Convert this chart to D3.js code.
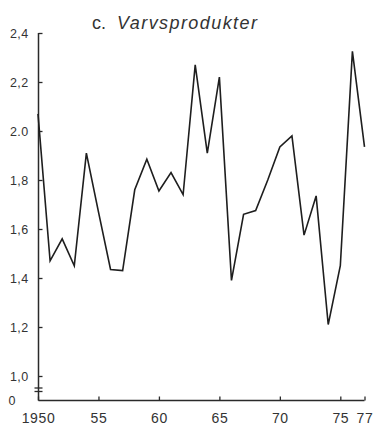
<!DOCTYPE html>
<html>
<head>
<meta charset="utf-8">
<script src="https://cdn.jsdelivr.net/npm/d3@7"></script>
<style>
  html, body { margin: 0; padding: 0; background: #fff; }
  svg { display: block; }
  text { font-family: "Liberation Sans", Arial, Helvetica, sans-serif; fill: #333; }
</style>
</head>
<body>
<div id="chart"></div>
<script>
// ---- Data ----
const years = [1950,1951,1952,1953,1954,1955,1956,1957,1958,1959,1960,1961,1962,1963,
               1964,1965,1966,1967,1968,1969,1970,1971,1972,1973,1974,1975,1976,1977];
const values = [2.07,1.47,1.56,1.45,1.91,1.67,1.435,1.43,1.76,1.885,1.755,1.83,1.74,2.27,
                1.91,2.22,1.39,1.66,1.675,1.80,1.935,1.98,1.575,1.735,1.21,1.45,2.325,1.935];
const yTicks = [1.0,1.2,1.4,1.6,1.8,2.0,2.2,2.4];
const yTickLabels = ["1,0","1,2","1,4","1,6","1,8","2.0","2,2","2,4"];
const xTicks = [1950,1955,1960,1965,1970,1975,1977];
const xTickLabels = ["1950","55","60","65","70","75","77"];
const titlePrefix = "c.";
const titleText = "Varvsprodukter";

const W = 379, H = 427;
const svg = d3.select("#chart").append("svg").attr("width", W).attr("height", H);

const axisX0 = 38.5, axisY0 = 400.5;
const x = d3.scaleLinear().domain([1950, 1977]).range([38, 364.5]);
const y = d3.scaleLinear().domain([1.0, 2.4]).range([376, 33]);

const ink = "#2a2a2a";

// Y axis (ticks pointing inward)
const yAxis = d3.axisLeft(y)
  .tickValues(yTicks)
  .tickFormat((d, i) => yTickLabels[i])
  .tickSizeInner(-4).tickSizeOuter(0).tickPadding(10);
const gy = svg.append("g").attr("transform", `translate(${axisX0},0)`).call(yAxis);
gy.select(".domain").remove();
gy.selectAll(".tick line").attr("stroke", ink).attr("stroke-width", 1.3);
gy.selectAll(".tick text").attr("font-size", 12.5).attr("fill", "#333")
  .attr("font-family", "'Liberation Sans', Arial, sans-serif").attr("letter-spacing", 0.4);

// Y axis line down to zero baseline
svg.append("line").attr("x1", axisX0).attr("x2", axisX0).attr("y1", y(2.4)).attr("y2", axisY0)
  .attr("stroke", ink).attr("stroke-width", 1.5);

// axis break marks
[388, 391.5].forEach(yy => {
  svg.append("line").attr("x1", axisX0 - 4).attr("x2", axisX0 + 4)
    .attr("y1", yy).attr("y2", yy).attr("stroke", ink).attr("stroke-width", 1.3);
});

// "0" label at baseline
svg.append("text").attr("x", 8.5).attr("y", axisY0).attr("dy", "0.35em")
  .attr("font-size", 12.5).attr("letter-spacing", 0.4).text("0");

// X axis
const xAxis = d3.axisBottom(x)
  .tickValues(xTicks)
  .tickFormat((d, i) => xTickLabels[i])
  .tickSizeInner(-4).tickSizeOuter(0).tickPadding(13);
const gx = svg.append("g").attr("transform", `translate(0,${axisY0})`).call(xAxis);
gx.select(".domain").remove();
gx.selectAll(".tick line").attr("stroke", ink).attr("stroke-width", 1.3);
gx.selectAll(".tick text").attr("font-size", 14).attr("fill", "#333")
  .attr("font-family", "'Liberation Sans', Arial, sans-serif").attr("letter-spacing", 0.6);
svg.append("line").attr("x1", axisX0).attr("x2", x(1977)).attr("y1", axisY0).attr("y2", axisY0)
  .attr("stroke", ink).attr("stroke-width", 1.5);

// Data line
const line = d3.line().x((d, i) => x(years[i])).y(d => y(d));
svg.append("path").datum(values).attr("d", line)
  .attr("fill", "none").attr("stroke", "#1e1e1e").attr("stroke-width", 1.6)
  .attr("stroke-linejoin", "miter");

// Title
svg.append("text").attr("x", 92).attr("y", 29).attr("font-size", 18).text(titlePrefix);
svg.append("text").attr("x", 117).attr("y", 29).attr("font-size", 18)
  .attr("font-style", "italic").attr("textLength", 140).attr("lengthAdjust", "spacing")
  .text(titleText);
</script>
</body>
</html>
